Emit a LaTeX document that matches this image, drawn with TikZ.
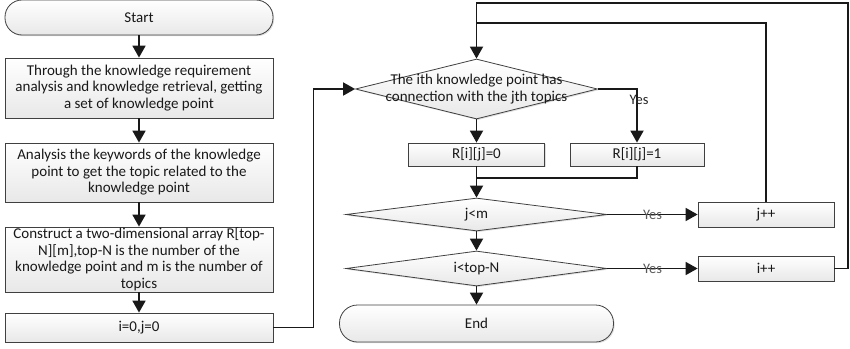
\documentclass[tikz,border=0pt]{standalone}
\usepackage{fontspec}
\setmainfont{Carlito}
\usetikzlibrary{arrows.meta,shapes.geometric,shadows}

\begin{document}
\begin{tikzpicture}[x=1pt,y=-1pt,
  every node/.style={font=\fontsize{15}{16.5}\selectfont, text=black!90},
  boxshade/.style={draw=black!75, line width=0.8pt, top color=white, bottom color=black!9,
    drop shadow={shadow xshift=1.2pt, shadow yshift=-1.2pt, opacity=0.25}},
  procbox/.style={boxshade, rectangle, inner sep=0pt, align=center},
  termbox/.style={procbox, rounded corners=17pt},
  decbox/.style={boxshade, diamond, inner sep=0pt},
  flow/.style={line width=1.8pt, draw=black!90},
  arr/.style={flow, -{Triangle[length=12pt,width=13pt]}},
  yeslbl/.style={font=\fontsize{14.5}{16}\selectfont, text=black!65}
]
\useasboundingbox (0,0) rectangle (850,348);

% left column
\node[termbox, minimum width=268pt, minimum height=35pt] (start) at (139,17.5) {Start};
\node[procbox, minimum width=268pt, minimum height=60pt] (b1) at (139,88)
  {Through the knowledge requirement\\analysis and knowledge retrieval, getting\\a set of knowledge point};
\node[procbox, minimum width=268pt, minimum height=59pt] (b2) at (139,172.5)
  {Analysis the keywords of the knowledge\\point to get the topic related to the\\knowledge point};
\node[procbox, minimum width=268pt, minimum height=65pt] (b3) at (139,259.5)
  {Construct a two-dimensional array R[top-\\N][m],top-N is the number of the\\knowledge point and m is the number of\\topics};
\node[procbox, minimum width=268pt, minimum height=29pt] (b4) at (139,327.5) {i=0,j=0};

% middle column
\node[decbox, minimum width=242pt, minimum height=60pt] (d1) at (476.5,89) {};
\node[align=center] (d1t) at (d1) {The ith knowledge point has\\connection with the jth topics};
\node[procbox, minimum width=136pt, minimum height=23pt] (r0) at (476.5,154.5) {R[i][j]=0};
\node[procbox, minimum width=134pt, minimum height=23pt] (r1) at (637,154.5) {R[i][j]=1};
\node[decbox, minimum width=261pt, minimum height=33pt] (jm) at (476.5,214.5) {};
\node (jmt) at (jm) {j<m};
\node[decbox, minimum width=261pt, minimum height=35pt] (iN) at (476.5,268.5) {};
\node (iNt) at (iN) {i<top-N};
\node[termbox, rounded corners=18pt, minimum width=274pt, minimum height=37pt] (end) at (476.5,323.5) {End};

% right column
\node[procbox, minimum width=136pt, minimum height=25pt] (jpp) at (766,214.5) {j++};
\node[procbox, minimum width=136pt, minimum height=25pt] (ipp) at (766,268.5) {i++};

% routing points
\coordinate (merge) at (476.5,178);
\coordinate (jtop) at (476.5,23);
\coordinate (rtop) at (848,3);

% connectors
\draw[arr] (start) -- (b1);
\draw[arr] (b1) -- (b2);
\draw[arr] (b2) -- (b3);
\draw[arr] (b3) -- (b4);
\draw[arr] (b4.east) -- ++(40,0) |- (d1.west);
\draw[arr] (d1.east) -| (r1.north);
\node[yeslbl, text=black!85] (yes1) at (639,100) {Yes};
\draw[arr] (d1.south) -- (r0.north);
\draw[arr] (r0.south) -- (jm.north);
\draw[flow] (r1.south) |- (merge);
\draw[arr] (jm.south) -- (iN.north);
\draw[arr] (iN.south) -- (end.north);
\draw[arr] (jm.east) -- (jpp.west) node[midway, yeslbl] (yes2) {Yes};
\draw[arr] (iN.east) -- (ipp.west) node[midway, yeslbl] (yes3) {Yes};
\draw[flow] (jpp.north) |- (jtop);
\draw[arr] (ipp.east) -| (rtop) -| (d1.north);
\end{tikzpicture}
\end{document}
